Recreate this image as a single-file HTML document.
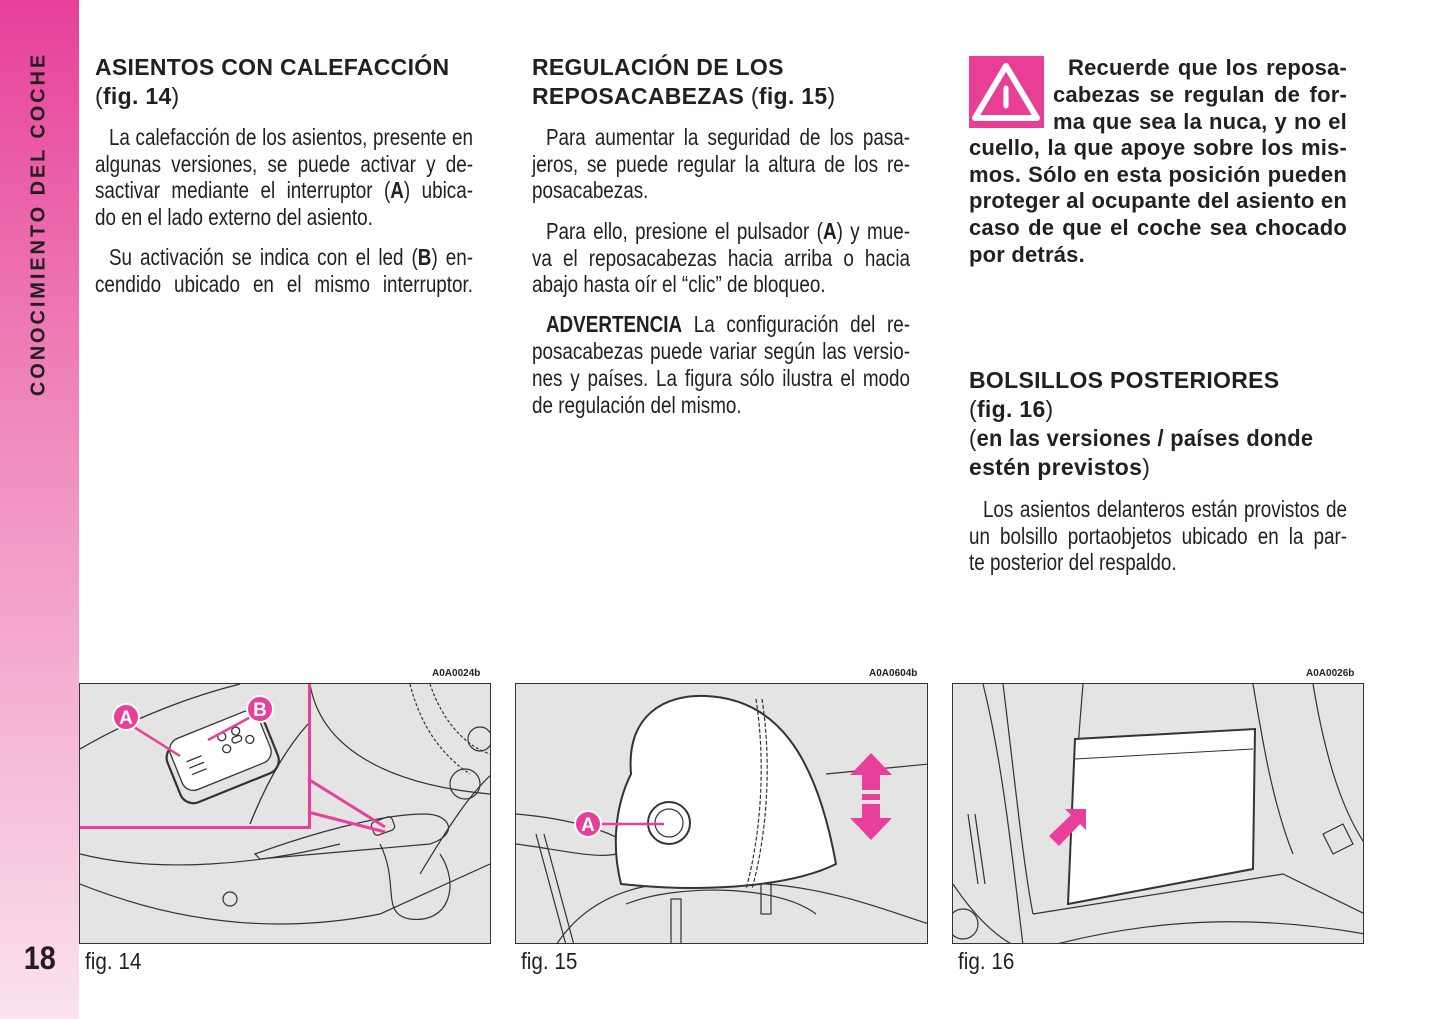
<!DOCTYPE html>
<html><head><meta charset="utf-8"><style>
*{margin:0;padding:0;box-sizing:border-box}
body{width:1445px;height:1019px;position:relative;background:#fff;overflow:hidden;font-family:"Liberation Sans",sans-serif;color:#231f20}
.sb{position:absolute;left:0;top:0;width:79px;height:1019px;background:linear-gradient(#e8409a,#f08fc0 45%,#f6c3dc 80%,#fbe3ef)}
.vt{position:absolute;left:39px;top:224px;transform:translate(-50%,-50%) rotate(-90deg);font:bold 20px "Liberation Sans",sans-serif;letter-spacing:2.9px;white-space:nowrap;color:#231f20}
.l{position:absolute;width:461px;height:27px;line-height:27px;font-size:23px;white-space:nowrap;text-align:justify;text-align-last:justify;transform:scaleX(.82);transform-origin:0 0}
.e{text-align-last:left}
.h{position:absolute;font:bold 23px "Liberation Sans",sans-serif;line-height:29px;white-space:nowrap;letter-spacing:0.3px}
.w{position:absolute;font:bold 22px "Liberation Sans",sans-serif;line-height:27px;white-space:nowrap;text-align:justify;text-align-last:justify;letter-spacing:0.2px}
.code{position:absolute;font:bold 10px "Liberation Sans",sans-serif}
.cap{position:absolute;font-size:23px;top:948px;transform:scaleX(.9);transform-origin:0 0}
.box{position:absolute;top:683px;height:261px;border:1.5px solid #333;background:#e4e4e4;overflow:hidden}
</style></head><body>
<div class="sb"></div>
<div class="vt">CONOCIMIENTO DEL COCHE</div>
<div style="position:absolute;left:22px;top:940px;font:bold 32px 'Liberation Sans',sans-serif;transform:scaleX(.9)">18</div>

<div class="h" style="left:95px;top:53px">ASIENTOS CON CALEFACCIÓN</div>
<div class="h" style="left:95px;top:82px;font-weight:normal">(<b>fig. 14</b>)</div>
<div class="l" style="left:95px;top:124px;padding-left:17px">La calefacción de los asientos, presente en</div>
<div class="l" style="left:95px;top:151px">algunas versiones, se puede activar y de-</div>
<div class="l" style="left:95px;top:177px">sactivar mediante el interruptor (<b>A</b>) ubica-</div>
<div class="l e" style="left:95px;top:204px">do en el lado externo del asiento.</div>
<div class="l" style="left:95px;top:244px;padding-left:17px">Su activación se indica con el led (<b>B</b>) en-</div>
<div class="l" style="left:95px;top:271px">cendido ubicado en el mismo interruptor.</div>

<div class="h" style="left:532px;top:53px">REGULACIÓN DE LOS</div>
<div class="h" style="left:532px;top:82px">REPOSACABEZAS <span style="font-weight:normal">(<b>fig. 15</b>)</span></div>
<div class="l" style="left:532px;top:124px;padding-left:17px">Para aumentar la seguridad de los pasa-</div>
<div class="l" style="left:532px;top:151px">jeros, se puede regular la altura de los re-</div>
<div class="l e" style="left:532px;top:177px">posacabezas.</div>
<div class="l" style="left:532px;top:218px;padding-left:17px">Para ello, presione el pulsador (<b>A</b>) y mue-</div>
<div class="l" style="left:532px;top:245px">va el reposacabezas hacia arriba o hacia</div>
<div class="l e" style="left:532px;top:271px">abajo hasta oír el “clic” de bloqueo.</div>
<div class="l" style="left:532px;top:311px;padding-left:17px"><b>ADVERTENCIA</b> La configuración del re-</div>
<div class="l" style="left:532px;top:338px">posacabezas puede variar según las versio-</div>
<div class="l" style="left:532px;top:365px">nes y países. La figura sólo ilustra el modo</div>
<div class="l e" style="left:532px;top:392px">de regulación del mismo.</div>

<div style="position:absolute;left:969px;top:56px;width:75px;height:72px;background:#e83e96"></div>
<svg style="position:absolute;left:969px;top:56px" width="75" height="72"><path d="M37 10 L68 62 L6 62 Z" fill="none" stroke="#fff" stroke-width="6" stroke-linejoin="round"/><line x1="37" y1="32" x2="37" y2="50" stroke="#fff" stroke-width="5" stroke-linecap="round"/></svg>
<div class="w" style="left:1053px;top:54px;width:294px;padding-left:15px">Recuerde que los reposa-</div>
<div class="w" style="left:1053px;top:81px;width:294px">cabezas se regulan de for-</div>
<div class="w" style="left:1053px;top:108px;width:294px">ma que sea la nuca, y no el</div>
<div class="w" style="left:969px;top:134px;width:378px">cuello, la que apoye sobre los mis-</div>
<div class="w" style="left:969px;top:161px;width:378px">mos. Sólo en esta posición pueden</div>
<div class="w" style="left:969px;top:187px;width:378px">proteger al ocupante del asiento en</div>
<div class="w" style="left:969px;top:214px;width:378px">caso de que el coche sea chocado</div>
<div class="w" style="left:969px;top:241px;width:378px;text-align-last:left">por detrás.</div>

<div class="h" style="left:969px;top:366px">BOLSILLOS POSTERIORES</div>
<div class="h" style="left:969px;top:395px;font-weight:normal">(<b>fig. 16</b>)</div>
<div class="h" style="left:969px;top:424px;font-weight:normal;transform:scaleX(.95);transform-origin:0 0">(<b>en las versiones / países donde</b></div>
<div class="h" style="left:969px;top:453px"><b>estén previstos</b><span style="font-weight:normal">)</span></div>
<div class="l" style="left:969px;top:496px;padding-left:17px">Los asientos delanteros están provistos de</div>
<div class="l" style="left:969px;top:523px">un bolsillo portaobjetos ubicado en la par-</div>
<div class="l e" style="left:969px;top:549px">te posterior del respaldo.</div>

<div class="code" style="left:432px;top:668px">A0A0024b</div>
<div class="code" style="left:869px;top:668px">A0A0604b</div>
<div class="code" style="left:1306px;top:668px">A0A0026b</div>

<div class="box" style="left:79px;width:412px">
<svg width="412" height="261" fill="none" stroke="#333" stroke-width="1.2">
<path d="M0 200 C100 240 200 250 300 230 L410 180"/><path d="M0 170 C80 190 180 180 260 160"/>
<path d="M175 170 C230 150 300 130 345 130 C370 130 380 150 350 160 L180 175 Z"/>
<path d="M300 160 C320 200 300 230 330 235 C370 240 380 200 360 170"/>
<circle cx="150" cy="215" r="7"/><path d="M230 0 C240 60 300 100 410 110"/>
<path d="M330 0 C340 40 360 70 390 90" stroke-dasharray="3 2"/><path d="M350 0 C360 30 380 60 410 70" stroke-dasharray="3 2"/>
<path d="M340 190 C370 140 390 110 412 90"/><circle cx="385" cy="100" r="15"/><circle cx="400" cy="55" r="12"/>
<rect x="292" y="135" width="22" height="14" rx="4" transform="rotate(-20 303 142)"/>
</svg>
<div style="position:absolute;left:0;top:0;width:231px;height:145px;background:#e4e4e4;border-right:3px solid #e8409a;border-bottom:3px solid #e8409a"></div>
<svg style="position:absolute;left:0;top:0" width="412" height="261" fill="none" stroke="#333" stroke-width="1.3">
<path d="M228 128 L305 148 M228 95 L305 143" stroke="#e8409a" stroke-width="3"/>
<path d="M0 65 C60 30 120 10 160 0"/><path d="M170 140 C190 90 210 60 228 40"/>
<g transform="rotate(-22 140 75)"><rect x="90" y="45" width="105" height="62" rx="14" stroke-width="2.2"/><rect x="96" y="40" width="95" height="55" rx="12" fill="#fff"/>
<circle cx="150" cy="55" r="4"/><circle cx="165" cy="55" r="4"/><circle cx="150" cy="68" r="4"/><circle cx="175" cy="68" r="4"/><rect x="158" y="60" width="10" height="6" rx="3"/>
<path d="M108 65 h16 M108 72 h16 M108 79 h16"/></g>
<line x1="46" y1="38" x2="100" y2="72" stroke="#e8409a" stroke-width="2.5"/><line x1="180" y1="28" x2="128" y2="56" stroke="#e8409a" stroke-width="2.5"/>
<circle cx="46" cy="33" r="13" fill="#e8409a" stroke="#fff" stroke-width="2"/><circle cx="180" cy="25" r="13" fill="#e8409a" stroke="#fff" stroke-width="2"/>
<text x="46" y="40" fill="#fff" stroke="none" font-family="Liberation Sans" font-weight="bold" font-size="19" text-anchor="middle">A</text>
<text x="180" y="32" fill="#fff" stroke="none" font-family="Liberation Sans" font-weight="bold" font-size="19" text-anchor="middle">B</text>
</svg></div>

<div class="box" style="left:515px;width:413px">
<svg width="413" height="261" fill="none" stroke="#333" stroke-width="1.2">
<path d="M0 130 C60 135 100 150 110 160"/><path d="M0 160 C40 165 80 175 100 170"/><path d="M310 90 L413 80"/>
<path d="M20 150 L50 261 M28 150 L58 261"/><path d="M40 261 C80 200 150 190 250 200 C320 205 380 230 413 240"/>
<path d="M110 220 C160 200 260 200 300 230"/><rect x="155" y="215" width="10" height="46"/><rect x="245" y="190" width="10" height="40"/>
<path d="M115 90 C110 30 150 10 190 12 C260 15 300 70 320 180 C280 200 200 210 105 200 C95 160 100 120 115 90 Z" fill="#fff" stroke-width="2"/>
<path d="M240 15 C250 80 245 150 230 205" stroke-dasharray="4 2"/><path d="M246 15 C256 80 251 150 236 205" stroke-dasharray="4 2"/>
<circle cx="153" cy="139" r="21" stroke-width="2"/><circle cx="153" cy="139" r="14"/>
<line x1="82" y1="140" x2="148" y2="140" stroke="#e8409a" stroke-width="2.5"/>
<circle cx="72" cy="140" r="13" fill="#e8409a" stroke="#fff" stroke-width="2"/>
<text x="72" y="147" fill="#fff" stroke="none" font-family="Liberation Sans" font-weight="bold" font-size="19" text-anchor="middle">A</text>
<g fill="#e8409a" stroke="none"><path d="M355 69 L376 91 L364 91 L364 106 L346 106 L346 91 L334 91 Z"/><rect x="346" y="110" width="18" height="6"/><path d="M346 120 L364 120 L364 134 L376 134 L355 156 L334 134 L346 134 Z"/></g>
</svg></div>

<div class="box" style="left:952px;width:412px">
<svg width="412" height="261" fill="none" stroke="#333" stroke-width="1.2">
<path d="M30 0 C50 80 60 180 70 261"/><path d="M50 0 C60 80 70 180 80 230"/><path d="M130 0 C125 60 120 130 115 220"/>
<path d="M300 0 C310 60 320 120 340 170"/><path d="M360 0 C370 60 385 120 412 160"/>
<path d="M0 200 C20 230 40 250 60 261"/><path d="M80 230 L330 190 L412 230"/><path d="M100 261 C200 235 300 230 412 250"/>
<path d="M15 130 L25 200 M22 130 L32 200"/><path d="M370 150 L390 140 L400 160 L380 170 Z"/><circle cx="10" cy="240" r="15"/>
<path d="M122 55 L302 45 L300 185 L115 220 Z" fill="#fff" stroke-width="2"/><path d="M122 75 L300 65" stroke-width="1"/>
<path d="M133 125 L112 125 L118 131 L96 152 L106 162 L127 140 L133 146 Z" fill="#e8409a" stroke="none"/>
</svg></div>

<div class="cap" style="left:85px">fig. 14</div>
<div class="cap" style="left:521px">fig. 15</div>
<div class="cap" style="left:958px">fig. 16</div>
</body></html>
